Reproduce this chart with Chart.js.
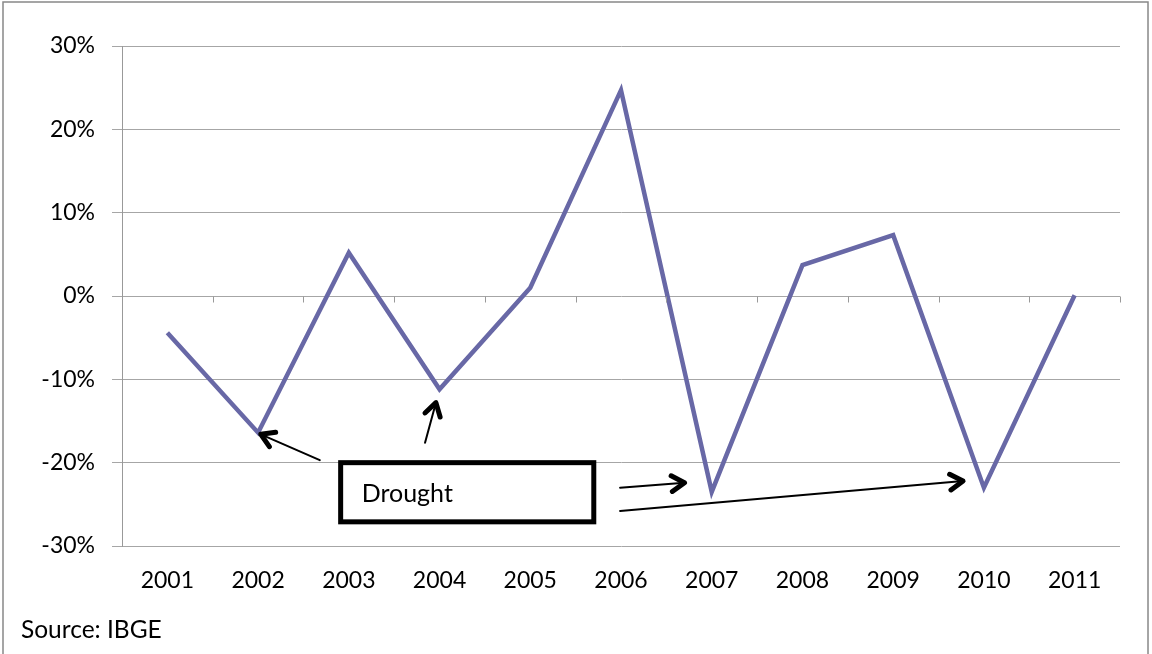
<!DOCTYPE html>
<html>
<head>
<meta charset="utf-8">
<script src="https://cdn.jsdelivr.net/npm/chart.js@4.4.1/dist/chart.umd.min.js"></script>
<style>
  html, body { margin: 0; padding: 0; background: #fff; }
  #wrap { width: 1152px; height: 654px; }
</style>
</head>
<body>
<div id="wrap"><canvas id="myChart" width="1152" height="654"></canvas></div>
<script>
// data
const years = ['2001', '2002', '2003', '2004', '2005', '2006', '2007', '2008', '2009', '2010', '2011'];
const change = [-4.4, -16.4, 5.2, -11.2, 1.0, 24.7, -23.5, 3.7, 7.3, -23.0, 0.1];
const yTicks = [-30, -20, -10, 0, 10, 20, 30];

// note box and arrows, in (category index, value) units
const noteText = 'Drought';
const noteBox = { x0: 1.91, x1: 4.70, y0: -20.0, y1: -27.1 };
const arrows = [
    { from: [1.68, -19.7], to: [1.03, -16.6] },
    { from: [2.84, -17.6], to: [2.96, -12.8] },
    { from: [4.99, -23.0], to: [5.70, -22.4] },
    { from: [4.99, -25.8], to: [8.77, -22.2] }
];
const sourceText = 'Source: IBGE';

const fontFamily = 'Lato, "Open Sans", sans-serif';

const extras = {
    id: 'extras',
    afterDatasetsDraw(chart) {
        const ctx = chart.ctx;
        const xs = chart.scales.x;
        const ys = chart.scales.y;
        const px = i => xs.left + (xs.right - xs.left) / years.length * (i + 0.5);

        // tick marks on the zero line
        ctx.save();
        ctx.strokeStyle = '#999';
        ctx.lineWidth = 1;
        const zy = Math.round(ys.getPixelForValue(0)) + 0.5;
        for (let i = 0; i <= years.length; i++) {
            const x = Math.round(xs.left + (xs.right - xs.left) / years.length * i) + 0.5;
            ctx.beginPath();
            ctx.moveTo(x, zy);
            ctx.lineTo(x, zy + 6);
            ctx.stroke();
        }
        ctx.restore();

        // box
        ctx.save();
        const bx0 = px(noteBox.x0), bx1 = px(noteBox.x1);
        const by0 = ys.getPixelForValue(noteBox.y0), by1 = ys.getPixelForValue(noteBox.y1);
        ctx.fillStyle = '#fff';
        ctx.fillRect(bx0, by0, bx1 - bx0, by1 - by0);
        ctx.strokeStyle = '#000';
        ctx.lineWidth = 5;
        ctx.strokeRect(bx0, by0, bx1 - bx0, by1 - by0);
        ctx.fillStyle = '#000';
        ctx.font = '25px ' + fontFamily;
        ctx.textBaseline = 'middle';
        ctx.fillText(noteText, bx0 + 21, (by0 + by1) / 2 + 2);

        // arrows
        ctx.lineCap = 'round';
        ctx.lineJoin = 'round';
        arrows.forEach(a => {
            const x0 = px(a.from[0]), y0 = ys.getPixelForValue(a.from[1]);
            const x1 = px(a.to[0]), y1 = ys.getPixelForValue(a.to[1]);
            ctx.lineWidth = 2;
            ctx.beginPath();
            ctx.moveTo(x0, y0);
            ctx.lineTo(x1, y1);
            ctx.stroke();
            const ang = Math.atan2(y1 - y0, x1 - x0);
            const len = 15;
            ctx.lineWidth = 5;
            ctx.beginPath();
            ctx.moveTo(x1 - len * Math.cos(ang - 0.55), y1 - len * Math.sin(ang - 0.55));
            ctx.lineTo(x1, y1);
            ctx.lineTo(x1 - len * Math.cos(ang + 0.55), y1 - len * Math.sin(ang + 0.55));
            ctx.stroke();
        });
        ctx.restore();
    },
    afterDraw(chart) {
        const ctx = chart.ctx;
        ctx.save();
        // frame
        ctx.strokeStyle = '#888';
        ctx.lineWidth = 1.5;
        ctx.strokeRect(3, 2, 1145, 660);
        // source
        ctx.fillStyle = '#000';
        ctx.font = '24.5px ' + fontFamily;
        ctx.textBaseline = 'middle';
        ctx.fillText(sourceText, 21, 630);
        ctx.restore();
    }
};

const ctx = document.getElementById('myChart').getContext('2d');
const myChart = new Chart(ctx, {
    type: 'line',
    data: {
        labels: years,
        datasets: [{
            data: change,
            borderColor: '#6868a6',
            borderWidth: 4.5,
            pointRadius: 0,
            tension: 0,
            fill: false
        }]
    },
    options: {
        responsive: false,
        animation: false,
        events: [],
        layout: { padding: { top: 46, right: 32, bottom: 0, left: 0 } },
        plugins: { legend: { display: false }, tooltip: { enabled: false } },
        scales: {
            x: {
                offset: true,
                grid: { display: false, drawTicks: false },
                border: { display: false },
                ticks: { color: '#000', font: { family: fontFamily, size: 23 }, padding: 21, maxRotation: 0 },
                afterFit(scale) { scale.height = 108; }
            },
            y: {
                min: -30,
                max: 30,
                afterBuildTicks(scale) { scale.ticks = yTicks.map(v => ({ value: v })); },
                grid: { color: '#a6a6a6', lineWidth: 1, tickLength: 10 },
                border: { color: '#999', width: 1 },
                ticks: {
                    color: '#000',
                    font: { family: fontFamily, size: 23 },
                    padding: 17,
                    callback: v => v + '%'
                },
                afterFit(scale) { scale.width = 122; }
            }
        }
    },
    plugins: [extras]
});
</script>
</body>
</html>
